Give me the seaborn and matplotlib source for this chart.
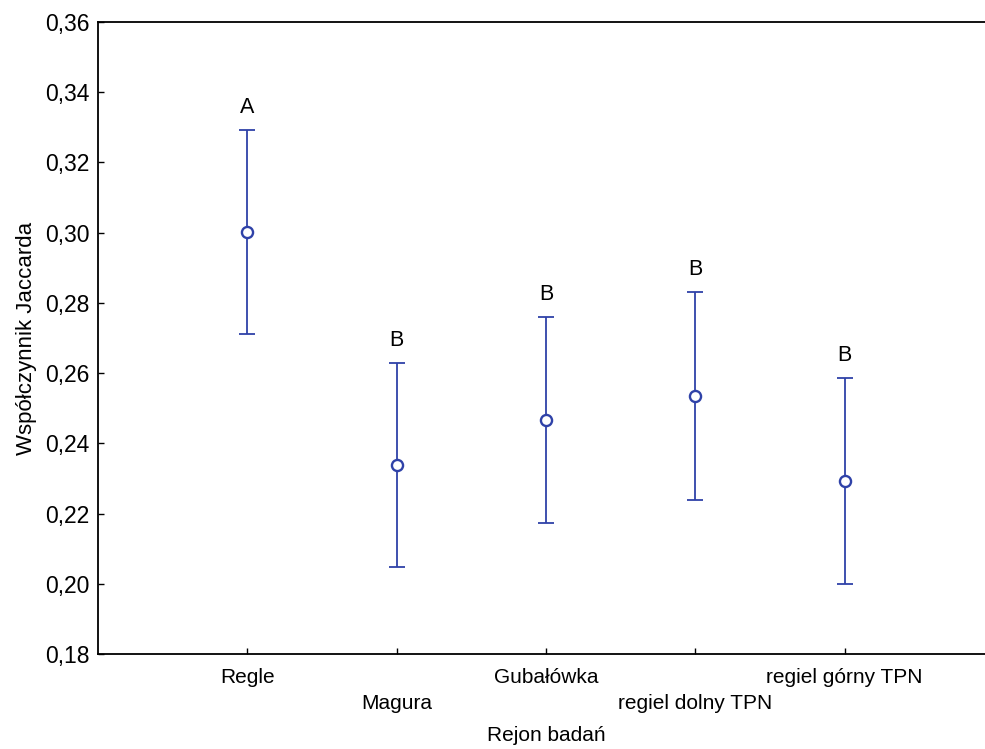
import numpy as np
import pandas as pd
import matplotlib
matplotlib.use("Agg")
import matplotlib.pyplot as plt
import seaborn as sns

# Mean Jaccard index per study region with confidence limits
regions = ["Regle", "Magura", "Gubałówka", "regiel dolny TPN", "regiel górny TPN"]
means = [0.3002, 0.2338, 0.2466, 0.2535, 0.2293]
lower = [0.2712, 0.2048, 0.2173, 0.2239, 0.1999]
upper = [0.3292, 0.2629, 0.2760, 0.2831, 0.2586]
groups = ["A", "B", "B", "B", "B"]
y_ticks = [0.18, 0.20, 0.22, 0.24, 0.26, 0.28, 0.30, 0.32, 0.34, 0.36]

df = pd.DataFrame({"rejon": regions, "mean": means, "lo": lower, "hi": upper, "grupa": groups})

sns.set_theme(style="white")
plt.rcParams["font.family"] = ["Liberation Sans", "DejaVu Sans"]

BLUE = "#2f42a8"
FS = 15

fig = plt.figure(figsize=(9.85, 7.49), dpi=100)
ax = fig.add_axes([98 / 985, (749 - 654) / 749, (994 - 98) / 985, (654 - 22) / 749])

x = np.arange(len(df))
ax.errorbar(x, df["mean"], yerr=[df["mean"] - df["lo"], df["hi"] - df["mean"]],
            fmt="none", ecolor=BLUE, elinewidth=1.3, capsize=6, capthick=1.3, zorder=2)
sns.scatterplot(data=df, x="rejon", y="mean", ax=ax, marker="o", s=64,
                facecolor="white", edgecolor=BLUE, linewidth=1.7, zorder=3, legend=False)

for xi, hi, g in zip(x, df["hi"], df["grupa"]):
    ax.annotate(g, (xi, hi), xytext=(0, 12.5), textcoords="offset points",
                ha="center", va="baseline", fontsize=FS + 0.5, color="black")

ax.set_xlim(-1, 5)
ax.set_ylim(0.18, 0.36)
ax.set_yticks(y_ticks)
ax.set_yticklabels([f"{v:.2f}".replace(".", ",") for v in y_ticks], fontsize=FS + 1.5)
ax.set_xticks(x)
ax.set_xticklabels([("\n" + r) if i % 2 else r for i, r in enumerate(regions)],
                   fontsize=FS, linespacing=1.5)

ax.tick_params(axis="both", direction="in", length=4, width=1, color="black",
               left=True, bottom=True, labelcolor="black")
ax.tick_params(axis="y", pad=6)
ax.tick_params(axis="x", pad=10)

for side in ["left", "bottom", "top"]:
    ax.spines[side].set_visible(True)
    ax.spines[side].set_color("black")
    ax.spines[side].set_linewidth(1.3)
ax.spines["right"].set_visible(False)

ax.set_xlabel("Rejon badań", fontsize=FS, color="black", labelpad=9)
ax.set_ylabel("Współczynnik Jaccarda", fontsize=FS + 1, color="black", labelpad=6)
ax.grid(False)

fig.savefig("out.png", dpi=100, facecolor="white")
